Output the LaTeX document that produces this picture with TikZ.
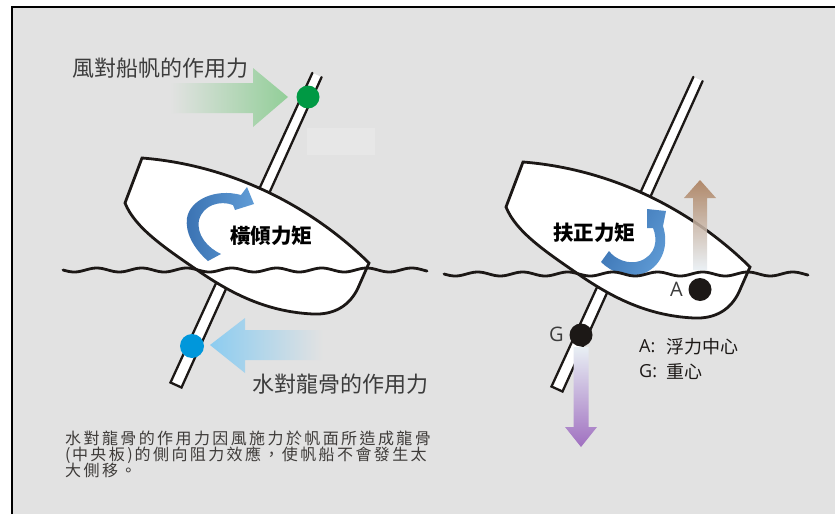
\documentclass[tikz,border=0pt]{standalone}
\usepackage{fontspec}
\setmainfont{Open Sans}
\newfontfamily\cjk{Noto Sans CJK TC}
\definecolor{bgc}{RGB}{226,226,226}
\definecolor{ink}{RGB}{28,24,22}
\definecolor{sailgreen}{RGB}{0,153,68}
\definecolor{arrowgreen}{RGB}{146,206,152}
\definecolor{keelblue}{RGB}{0,151,219}
\definecolor{arrowblue}{RGB}{140,204,240}
\definecolor{momentdark}{RGB}{58,114,178}
\definecolor{momentlight}{RGB}{96,156,214}
\definecolor{buoybrown}{RGB}{168,122,86}
\definecolor{gravpurple}{RGB}{160,112,192}
\definecolor{paleblue}{RGB}{232,239,244}
\definecolor{labelgray}{RGB}{60,60,60}
% spread the characters of a CJK string: \spread ...\relax
\def\spread#1{\ifx#1\relax\else#1\kern2.4pt\expandafter\spread\fi}
\tikzset{
  hull/.style={fill=white, draw=ink, line width=2.8pt},
  stick/.style={draw=ink, line width=2.3pt, line cap=round},
  wave/.style={draw=ink, line width=2.8pt, line cap=round},
  dot/.style={inner sep=0pt, circle, minimum size=23pt},
  moment/.style={left color=momentdark, right color=momentlight, draw=none},
  title/.style={inner sep=0pt, anchor=base west, text=labelgray, font=\cjk\fontsize{22}{26}\selectfont},
  para/.style={inner sep=0pt, anchor=base west, text=ink!85!white, font=\cjk\fontsize{16}{19}\selectfont},
  torque/.style={inner sep=0pt, anchor=base west, text=black, font=\cjk\bfseries\fontsize{20.5}{24}\selectfont},
  letter/.style={inner sep=0pt, anchor=base west, text=labelgray, font=\fontsize{20}{24}\selectfont},
  legend/.style={inner sep=0pt, anchor=base west, text=ink, font=\fontsize{18}{22}\selectfont},
}
\begin{document}
\begin{tikzpicture}[x=1pt,y=-1pt]
\useasboundingbox (0,0) rectangle (835,514);
\fill[white] (0,0) rectangle (835,514);
% panel
\fill[bgc] (12,7) rectangle (835,514);
\draw[line width=1.5pt] (12,514) -- (12,7) -- (835,7);
\fill[white!18!bgc] (307,128) rectangle (375,155);

% wind force on the sail (fading arrow)
\shade[left color=bgc, right color=arrowgreen]
  (170,83) -- (253,83) -- (253,68) -- (288,97) -- (253,127) -- (253,113) -- (170,113) -- cycle;
% water force on the keel (fading arrow)
\shade[left color=arrowblue, right color=bgc]
  (323,330) -- (245,330) -- (245,318) -- (210,345) -- (245,373) -- (245,360) -- (323,360) -- cycle;

% the two boats: mast + keel, hull
\foreach \dx/\dy in {0/0, 381/4}{
  \begin{scope}[shift={(\dx,\dy)}]
    \fill[white] (312.4,72.9) -- (321.6,77.1) -- (181.5,387.5) -- (170.5,382.5) -- cycle;
    \draw[stick] (312.4,72.9) -- (170.5,382.5) -- (181.5,387.5) -- (321.6,77.1);
    \draw[hull] (142,158) .. controls (230,165) and (310,205) .. (369,263)
      -- (358,288) .. controls (350,305) and (335,315) .. (313,314)
      .. controls (270,312) and (235,296) .. (200,272)
      .. controls (165,248) and (135,228) .. (125,203) -- cycle;
  \end{scope}
}

% heeling moment arrow
\shade[moment]
  (208,261) .. controls (193,248) and (185,232) .. (187,218)
  .. controls (190,200) and (215,188) .. (241,195)
  -- (247,187) -- (254,204) -- (235,210) -- (233,205)
  .. controls (220,200) and (203,205) .. (199,220)
  .. controls (196,235) and (208,248) .. (221,254) -- cycle;
% righting moment arrow
\shade[moment, shading angle=60]
  (601,262) .. controls (612,273) and (628,278) .. (642,274)
  .. controls (660,268) and (670,248) .. (663,226)
  -- (666,211) -- (647,209) -- (647,228) -- (653,228)
  .. controls (658,240) and (656,255) .. (640,261)
  .. controls (628,265) and (615,259) .. (609,251) -- cycle;

% waterlines
\draw[wave] plot[domain=63:427, samples=160, smooth] (\x,{270+2*sin(8*(\x-63))});
\draw[wave] plot[domain=444:808, samples=160, smooth] (\x,{274+2*sin(8*(\x-444))});

% buoyancy (up) and gravity (down)
\shade[top color=buoybrown, bottom color=paleblue, opacity=0.85]
  (693,270) -- (693,198) -- (684,198) -- (700,180) -- (716,198) -- (707,198) -- (707,270) -- cycle;
\shade[top color=paleblue, bottom color=gravpurple]
  (573.5,347) -- (588.5,347) -- (588.5,427) -- (597,427) -- (581,447) -- (565,427) -- (573.5,427) -- cycle;

% force points
\node[dot, fill=sailgreen] (sail) at (308,97) {};
\node[dot, fill=keelblue, minimum size=24pt] (keel) at (192,346) {};
\node[dot, fill=ink] (ptG) at (581,335) {};
\node[dot, fill=ink] (ptA) at (700,289.5) {};

% labels
\node[title] (windlbl) at (72,76) {風對船帆的作用力};
\node[title] (waterlbl) at (252,392) {水對龍骨的作用力};
\node[torque] (heel) at (230,243) {橫傾力矩};
\node[torque] (right) at (553,240) {扶正力矩};
\node[letter] (lblA) at (670,296.5) {A};
\node[letter] (lblG) at (549,341.5) {G};
\node[legend] (legA) at (639,352) {A:};
\node[legend] (legG) at (639,377) {G:};
\node[legend, font=\cjk\fontsize{18}{22}\selectfont] (legAt) at (666,353) {浮力中心};
\node[legend, font=\cjk\fontsize{18}{22}\selectfont] (legGt) at (666,378) {重心};
\node[para] (p1) at (65,444) {\spread 水對龍骨的作用力因風施力於帆面所造成龍骨\relax};
\node[para] (p2) at (65,460) {(\kern1.5pt\spread 中央板\relax)\kern2pt\spread 的側向阻力效應，使帆船不會發生太\relax};
\node[para] (p3) at (65,476) {\spread 大側移。\relax};
\end{tikzpicture}
\end{document}
